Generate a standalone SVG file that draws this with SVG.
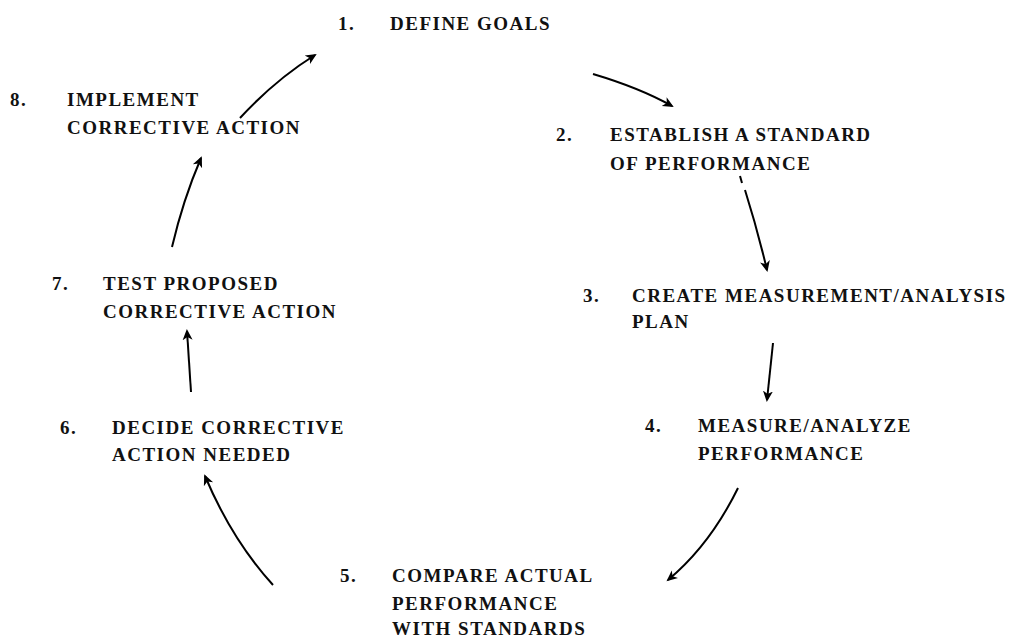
<svg xmlns="http://www.w3.org/2000/svg" width="1016" height="637" viewBox="0 0 1016 637">
<defs>
<marker id="ah" markerWidth="12" markerHeight="12" refX="9" refY="6" orient="auto" markerUnits="userSpaceOnUse">
<path d="M0,1 L11,6 L0,11 L3,6 Z" fill="#000"/>
</marker>
<style>
text{font-family:"Liberation Serif","Times New Roman",serif;font-weight:bold;font-size:19px;letter-spacing:1.5px;fill:#111}
.c path{fill:none;stroke:#000;stroke-width:2}
.c .a{marker-end:url(#ah)}
</style>
</defs>
<rect width="1016" height="637" fill="#fff"/>
<g id="n1"><text x="338" y="30">1.</text><text x="390" y="30">DEFINE GOALS</text></g>
<g id="n2"><text x="556" y="141">2.</text><text x="610" y="141">ESTABLISH A STANDARD</text><text x="610" y="170">OF PERFORMANCE</text></g>
<g id="n3"><text x="583" y="302">3.</text><text x="632" y="302">CREATE MEASUREMENT/ANALYSIS</text><text x="632" y="328">PLAN</text></g>
<g id="n4"><text x="645" y="432">4.</text><text x="698" y="432">MEASURE/ANALYZE</text><text x="698" y="460">PERFORMANCE</text></g>
<g id="n5"><text x="340" y="582">5.</text><text x="392" y="582">COMPARE ACTUAL</text><text x="392" y="610">PERFORMANCE</text><text x="392" y="635">WITH STANDARDS</text></g>
<g id="n6"><text x="60" y="434">6.</text><text x="112" y="434">DECIDE CORRECTIVE</text><text x="112" y="461">ACTION NEEDED</text></g>
<g id="n7"><text x="52" y="290">7.</text><text x="103" y="290">TEST PROPOSED</text><text x="103" y="318">CORRECTIVE ACTION</text></g>
<g id="n8"><text x="10" y="106">8.</text><text x="67" y="106">IMPLEMENT</text><text x="67" y="134">CORRECTIVE ACTION</text></g>
<g class="c" id="connectors">
<path class="a" d="M593,74 Q640,88 672,106"/>
<path d="M740,176 L742,183"/>
<path class="a" d="M745,190 Q757,228 767,270"/>
<path class="a" d="M773,343 L767,400"/>
<path class="a" d="M738,488 Q710,545 668,580"/>
<path class="a" d="M273,585 Q232,540 205,476"/>
<path class="a" d="M191,392 L187,331"/>
<path class="a" d="M172,247 Q183,200 201,158"/>
<path class="a" d="M240,118 Q275,80 315,55"/>
</g>
</svg>
